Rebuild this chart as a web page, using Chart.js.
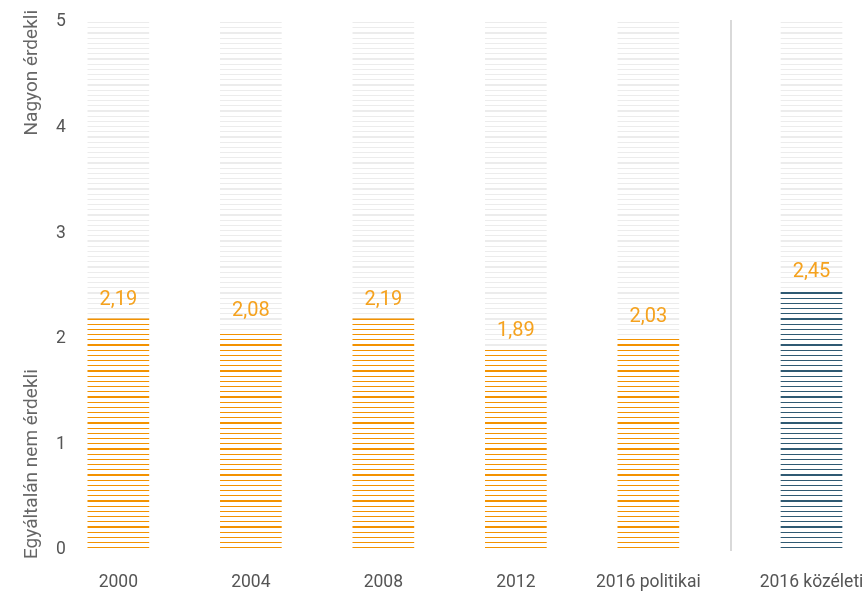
<!DOCTYPE html>
<html>
<head>
<meta charset="utf-8">
<script src="https://cdn.jsdelivr.net/npm/chart.js@4"></script>
<style>
  html, body { margin: 0; padding: 0; background: #fff; }
  #wrap { position: relative; width: 862px; height: 594px; }
  #left { position: absolute; left: 0; top: 0; width: 730px; height: 594px; }
  #right { position: absolute; left: 730px; top: 0; width: 132px; height: 594px; }
</style>
</head>
<body>
<div id="wrap">
  <div id="left"><canvas id="chartA"></canvas></div>
  <div id="right"><canvas id="chartB"></canvas></div>
</div>
<script>
// --- adatok ---
const years = ['2000', '2004', '2008', '2012', '2016 politikai'];
const politicalInterest = [2.19, 2.08, 2.19, 1.89, 2.03];
const publicLabel = ['2016 közéleti'];
const publicInterest = [2.45];
const scaleTop = [5, 5, 5, 5, 5];
const yTicks = [0, 1, 2, 3, 4, 5];
const axisTop = 'Nagyon érdekli';
const axisBottom = 'Egyáltalán nem érdekli';

const ORANGE = '#f39200';
const LABEL_ORANGE = '#f5a21e';
const NAVY = '#2f5a73';
const STRIPE_GRAY = '#ececec';
const FONT = 'Roboto, "DejaVu Sans", sans-serif';

// csíkos minta (vízszintes vonalak)
function stripes(color, fillWhite) {
    const c = document.createElement('canvas');
    c.width = 8; c.height = 26;
    const g = c.getContext('2d');
    if (fillWhite) { g.fillStyle = '#fff'; g.fillRect(0, 0, 8, 26); }
    g.fillStyle = color;
    g.fillRect(0, 6, 8, 2);
    [1, 12, 17, 22].forEach(y => g.fillRect(0, y, 8, 1));
    return g.createPattern(c, 'repeat');
}

const fmt = v => v.toFixed(2).replace('.', ',');

// értékcímkék a sávok fölé
const valueLabels = {
    id: 'valueLabels',
    afterDatasetsDraw(chart) {
        const ctx = chart.ctx;
        const meta = chart.getDatasetMeta(1);
        const data = chart.data.datasets[1].data;
        ctx.save();
        ctx.font = '20px ' + FONT;
        ctx.fillStyle = LABEL_ORANGE;
        ctx.textAlign = 'center';
        ctx.textBaseline = 'middle';
        meta.data.forEach((bar, i) => {
            ctx.fillText(fmt(data[i]), bar.x, bar.y - 19);
        });
        ctx.restore();
    }
};

// forgatott tengelyfeliratok
const axisTitles = {
    id: 'axisTitles',
    afterDraw(chart) {
        const ctx = chart.ctx;
        const y = chart.scales.y;
        ctx.save();
        ctx.font = '19px ' + FONT;
        ctx.fillStyle = '#666';
        ctx.textBaseline = 'middle';
        ctx.translate(32, 0);
        ctx.rotate(-Math.PI / 2);
        ctx.textAlign = 'right';
        ctx.fillText(axisTop, -(y.top - 12), 0);
        ctx.textAlign = 'left';
        ctx.fillText(axisBottom, -(y.bottom + 9), 0);
        ctx.restore();
    }
};

// elválasztó vonal
const separator = {
    id: 'separator',
    beforeDatasetsDraw(chart) {
        const ctx = chart.ctx;
        const a = chart.chartArea;
        ctx.save();
        ctx.fillStyle = '#d9d9d9';
        ctx.fillRect(0, a.top - 2, 2, a.bottom - a.top + 3);
        ctx.restore();
    }
};

function noPad(scale) {
    scale.paddingLeft = 0; scale.paddingRight = 0;
    scale.paddingTop = 0; scale.paddingBottom = 0;
}

function xScale() {
    return {
        offset: true,
        grid: { display: false, drawTicks: false },
        border: { display: false },
        ticks: { color: '#555', font: { family: FONT, size: 17.5 }, padding: 22, maxRotation: 0, autoSkip: false },
        afterFit: s => { noPad(s); s.height = 44; }
    };
}

function yScale(show) {
    return {
        display: show,
        min: 0, max: 5,
        grid: { display: false, drawTicks: false },
        border: { display: false },
        afterBuildTicks: s => { s.ticks = yTicks.map(v => ({ value: v })); },
        ticks: { mirror: true, padding: 4, color: '#555', font: { family: FONT, size: 17.5 } },
        afterFit: noPad
    };
}

function barSets(values, color) {
    return [
        { data: values.map((v, i) => scaleTop[i]), backgroundColor: stripes(STRIPE_GRAY, false), barThickness: 61, grouped: false, order: 2 },
        { data: values, backgroundColor: stripes(color, true), barThickness: 61, grouped: false, order: 1 }
    ];
}

const common = {
    responsive: true,
    maintainAspectRatio: false,
    animation: false,
    plugins: { legend: { display: false }, tooltip: { enabled: false } }
};

new Chart(document.getElementById('chartA'), {
    type: 'bar',
    data: { labels: years, datasets: barSets(politicalInterest, ORANGE) },
    options: {
        ...common,
        layout: { padding: { left: 44.1, right: 15.4, top: 22, bottom: 0 } },
        scales: { x: xScale(), y: yScale(true) }
    },
    plugins: [valueLabels, axisTitles]
});

new Chart(document.getElementById('chartB'), {
    type: 'bar',
    data: { labels: publicLabel, datasets: barSets(publicInterest, NAVY) },
    options: {
        ...common,
        layout: { padding: { left: 31, right: 0, top: 22, bottom: 0 } },
        scales: { x: xScale(), y: yScale(false) }
    },
    plugins: [valueLabels, separator]
});
</script>
</body>
</html>
